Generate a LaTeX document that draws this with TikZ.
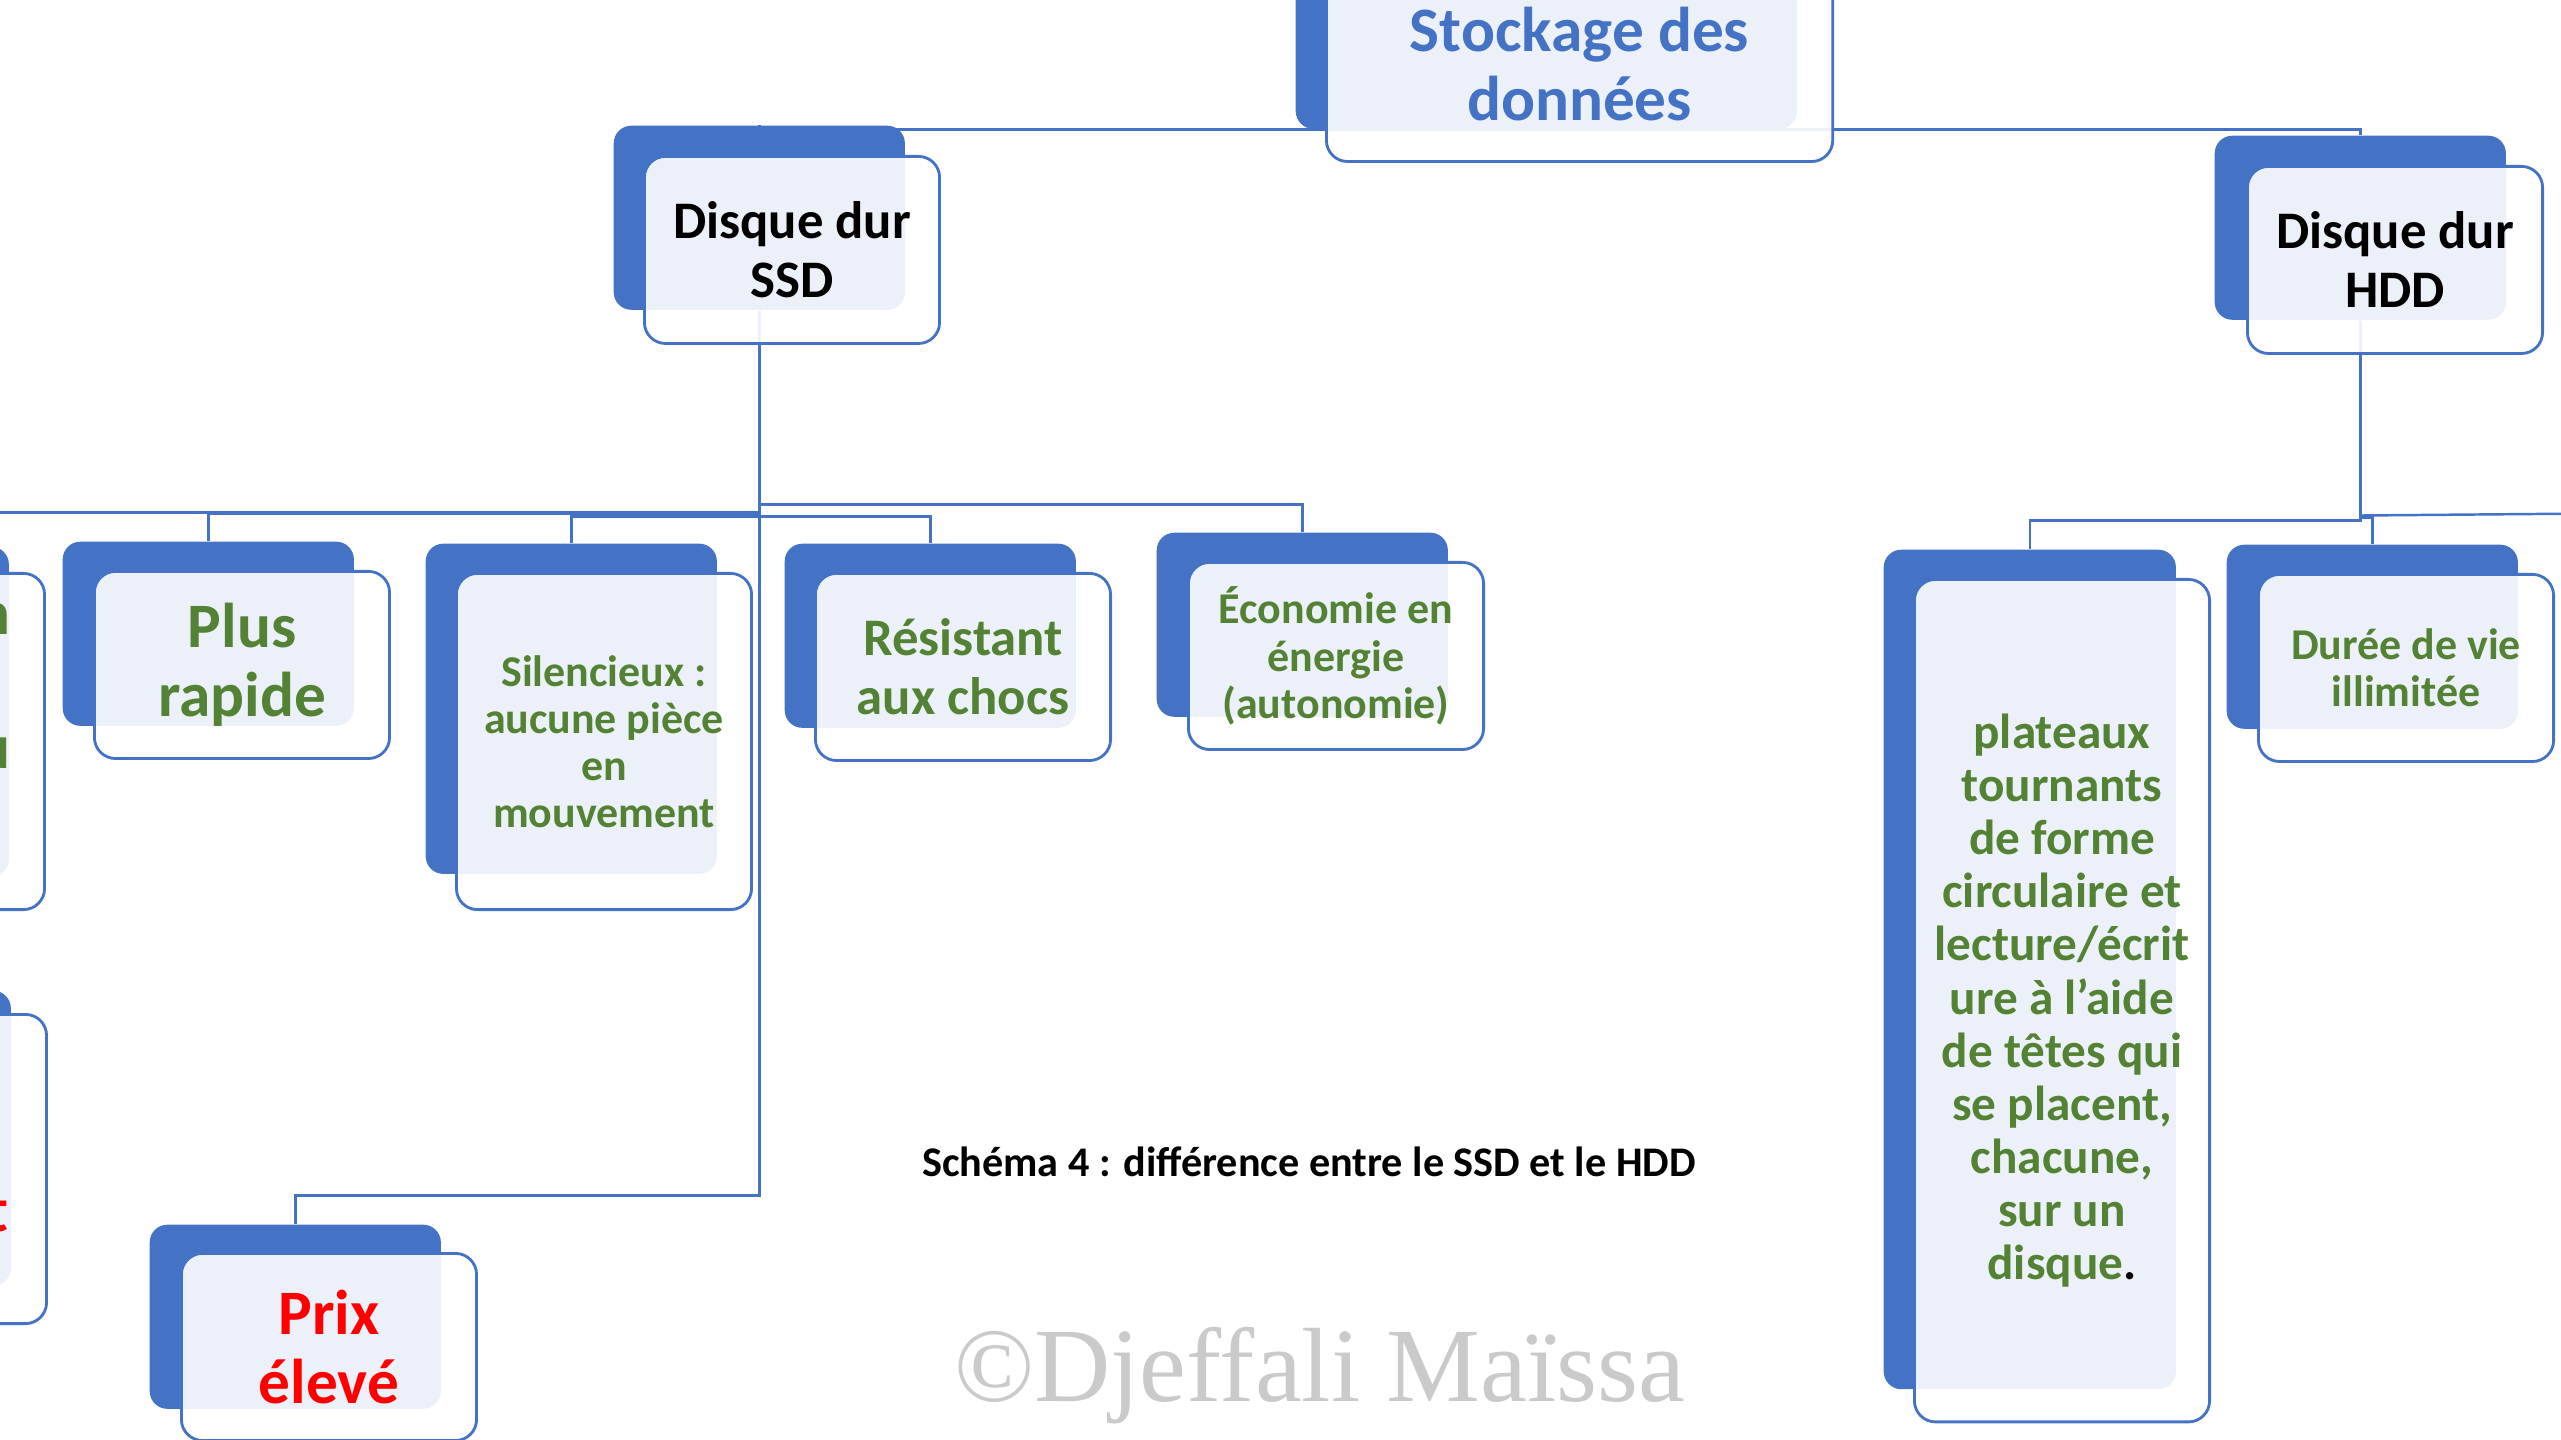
\documentclass[tikz,border=0pt]{standalone}
\usepackage{fontspec}
\setmainfont{Carlito}
\newfontfamily\wmfont{Liberation Serif}

\definecolor{accent}{HTML}{4472C4}
\definecolor{okgreen}{HTML}{548235}
\definecolor{badred}{HTML}{FF0000}
\definecolor{wmgray}{HTML}{CACACA}

\pgfdeclarelayer{paper}
\pgfdeclarelayer{links}
\pgfsetlayers{paper,links,main}

\tikzset{
  backbox/.style={fill=accent, rounded corners=5pt, inner sep=0pt, anchor=north west},
  frontbox/.style={draw=accent, line width=0.8pt, fill=white, fill opacity=0.9, text opacity=1,
    rounded corners=6pt, inner sep=0pt, anchor=north west, align=center},
  bstd/.style={minimum width=2.91cm, minimum height=1.84cm},
  fstd/.style={minimum width=2.95cm, minimum height=1.87cm},
  btall/.style={minimum width=2.91cm, minimum height=3.30cm},
  ftall/.style={minimum width=2.95cm, minimum height=3.36cm},
  link/.style={draw=accent, line width=0.7pt},
  txtXL/.style={font=\bfseries\fontsize{18}{19.6}\selectfont},
  txtM/.style={font=\bfseries\fontsize{15}{16.8}\selectfont},
  txtS/.style={font=\bfseries\fontsize{12.5}{13.4}\selectfont},
  txtP/.style={font=\bfseries\fontsize{14}{15.1}\selectfont}
}

\begin{document}
\begin{tikzpicture}[x=0.01cm, y=-0.01cm]
  \useasboundingbox (0,0) rectangle (2561,1440);
  \begin{pgfonlayer}{paper}
    \fill[white] (0,0) rectangle (2561,1440);
  \end{pgfonlayer}

  % racine
  \node[backbox, minimum width=5.01cm, minimum height=1.92cm] (rootb) at (1295,-64) {};
  \node[frontbox, minimum width=5.06cm, minimum height=1.94cm, txtXL, text=accent] (root) at (1325,-34) {Stockage des\\données};

  % disques
  \node[backbox, bstd] (ssdb) at (613,125) {};
  \node[frontbox, fstd, txtM] (ssd) at (643,155) {Disque dur\\SSD};
  \node[backbox, bstd] (hddb) at (2214,135) {};
  \node[frontbox, fstd, txtM] (hdd) at (2246,165) {Disque dur\\HDD};

  % SSD
  \node[backbox, btall] (left1b) at (-283,546) {};
  \node[frontbox, ftall] (left1) at (-252,572) {};
  \node[txtXL, text=okgreen, anchor=base east, inner sep=0pt] (frag1) at (11,634) {n};
  \node[txtXL, text=okgreen, anchor=base east, inner sep=0pt] (frag2) at (11,768) {u};
  \node[backbox, minimum width=2.91cm, minimum height=2.95cm] (left2b) at (-281,990) {};
  \node[frontbox, minimum width=2.95cm, minimum height=3.09cm] (left2) at (-250,1013) {};
  \node[txtXL, text=badred, anchor=base east, inner sep=0pt] (frag3) at (9,1231) {t};

  \node[backbox, bstd] (plusb) at (62,541) {};
  \node[frontbox, fstd, txtXL, text=okgreen] (plus) at (93,570) {Plus\\rapide};
  \node[backbox, btall] (silb) at (425,543) {};
  \node[frontbox, ftall, txtS, text=okgreen] (sil) at (455,572) {Silencieux :\\aucune pièce\\en\\mouvement};
  \node[backbox, bstd] (resb) at (784,543) {};
  \node[frontbox, fstd, txtM, text=okgreen] (res) at (814,572) {Résistant\\aux chocs};
  \node[backbox, bstd] (ecob) at (1156,532) {};
  \node[frontbox, fstd, txtS, text=okgreen] (eco) at (1187,561) {Économie en\\énergie\\(autonomie)};
  \node[backbox, bstd] (prixb) at (149,1224) {};
  \node[frontbox, fstd, txtXL, text=badred] (prix) at (180,1252) {Prix\\élevé};

  % HDD
  \node[backbox, minimum width=2.92cm, minimum height=8.39cm] (platb) at (1883,549) {};
  \node[frontbox, minimum width=2.95cm, minimum height=8.42cm, txtP, text=okgreen] (plat) at (1913,578)
    {plateaux\\tournants\\de forme\\circulaire et\\lecture/écrit\\ure à l’aide\\de têtes qui\\se placent,\\chacune,\\sur un\\disque{\color{black}.}};
  \node[backbox, bstd] (dureeb) at (2226,544) {};
  \node[frontbox, fstd, txtS, text=okgreen] (duree) at (2257,573) {Durée de vie\\illimitée};
  \coordinate (hddout) at (2650,513);

  \node[anchor=base, font=\bfseries\fontsize{12}{14}\selectfont] (caption) at (1309,1176) {Schéma 4 : différence entre le SSD et le HDD};
  \node[anchor=base, text=wmgray, font=\wmfont\fontsize{30}{34}\selectfont] (mark) at (1320,1401) {©Djeffali Maïssa};

  \begin{pgfonlayer}{links}
    \draw[link] (rootb.south) -| (ssdb.north);
    \draw[link] (rootb.south) -| (hddb.north);

    \draw[link] (ssdb.south) -- ++(0,202) -| (left1b.north);
    \draw[link] (ssdb.south) -- ++(0,203) -| (plusb.north);
    \draw[link] (ssdb.south) -- ++(0,206) -| (silb.north);
    \draw[link] (ssdb.south) -- ++(0,206) -| (resb.north);
    \draw[link] (ssdb.south) -- ++(0,194) -| (ecob.north);
    \draw[link] (ssdb.south) -- ++(0,885) -| (prixb.north);

    \draw[link] (hddb.south) -- ++(0,200) -| (platb.north);
    \draw[link] (hddb.south) -- ++(0,197) -| (dureeb.north);
    \draw[link] (hddb.south) -- ++(0,195) -- (hddout);
  \end{pgfonlayer}
\end{tikzpicture}
\end{document}
